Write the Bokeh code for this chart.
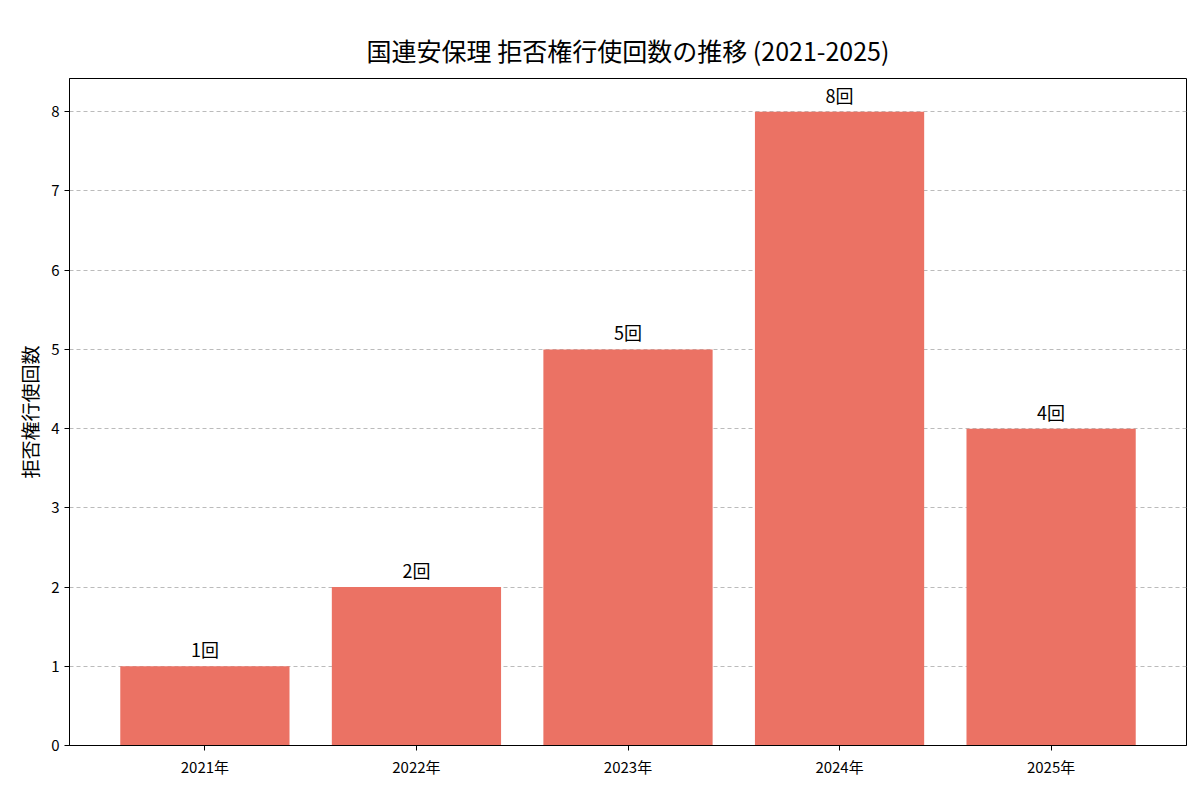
from bokeh.plotting import figure
from bokeh.models import ColumnDataSource, Range1d, FixedTicker, Title
from bokeh.core.properties import value
from bokeh.embed import file_html
from bokeh.resources import INLINE

years = ["2021年", "2022年", "2023年", "2024年", "2025年"]
counts = [1, 2, 5, 8, 4]
labels = [f"{c}回" for c in counts]
xs = list(range(len(years)))

FONT = "Noto Sans CJK JP"
src = ColumnDataSource(dict(x=xs, top=counts, lab=labels))

p = figure(width=1192, height=785, output_backend="svg", toolbar_location=None,
           x_range=Range1d(-0.64, 4.64), y_range=Range1d(0, 8.42),
           min_border_left=69, min_border_right=6, min_border_top=78, min_border_bottom=40)
p.title = Title(text="国連安保理 拒否権行使回数の推移 (2021-2025)", align="center",
                text_font=FONT, text_font_size="25px", text_font_style="normal",
                text_color="black", offset=0, standoff=22)
p.vbar(x="x", top="top", width=0.8, source=src, color="#EB7264", line_color=None)
p.text(x="x", y="top", text="lab", source=src, text_align="center", text_baseline="bottom",
       y_offset=-4, text_font=value(FONT), text_font_size="18px", text_color="black")

p.xaxis.ticker = FixedTicker(ticks=xs)
p.xaxis.major_label_overrides = {i: y for i, y in enumerate(years)}
p.yaxis.ticker = FixedTicker(ticks=list(range(9)))
p.yaxis.axis_label = "拒否権行使回数"
for ax in (p.xaxis, p.yaxis):
    ax.major_label_text_font = FONT
    ax.major_label_text_font_size = "15px"
    ax.major_label_text_color = "black"
    ax.axis_label_text_font = FONT
    ax.axis_label_text_font_size = "19px"
    ax.axis_label_text_font_style = "normal"
    ax.axis_label_text_color = "black"
    ax.minor_tick_line_color = None
    ax.major_tick_in = 0
    ax.major_tick_out = 5
    ax.axis_line_color = "black"
    ax.major_tick_line_color = "black"
p.xgrid.grid_line_color = None
p.ygrid.grid_line_color = "#bbbbbb"
p.ygrid.grid_line_dash = "4 3"
p.outline_line_color = "black"
p.outline_line_alpha = 1

open("out.html", "w").write(file_html(p, INLINE))
